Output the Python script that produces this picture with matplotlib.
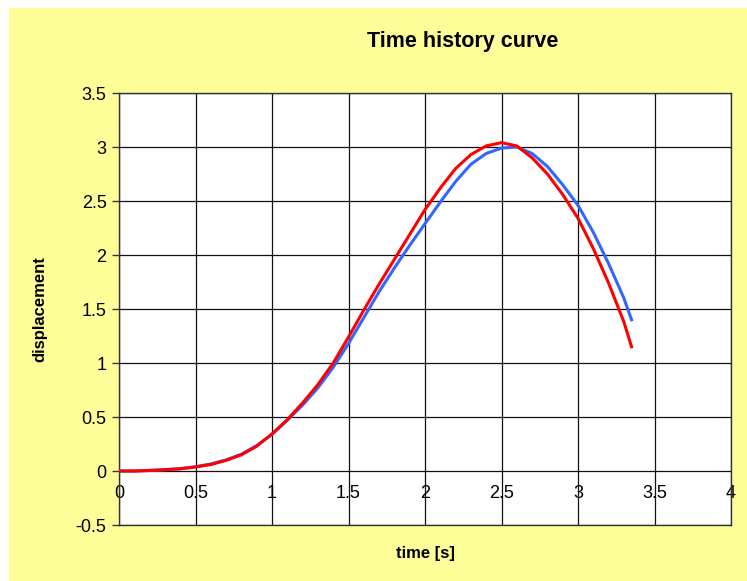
import matplotlib
matplotlib.use("Agg")
import matplotlib.pyplot as plt
from matplotlib.patches import Rectangle

plt.rcParams['font.family'] = ['Liberation Sans', 'DejaVu Sans']

# time [s]
time = [0.0, 0.1, 0.2, 0.3, 0.4, 0.5, 0.6, 0.7, 0.8, 0.9,
        1.0, 1.1, 1.2, 1.3, 1.4, 1.5, 1.6, 1.7, 1.8, 1.9,
        2.0, 2.1, 2.2, 2.3, 2.4, 2.5, 2.6, 2.7, 2.8, 2.9,
        3.0, 3.1, 3.2, 3.3, 3.35]

# blue series
disp_blue = [0.0, 0.0, 0.005, 0.012, 0.022, 0.04, 0.065, 0.103, 0.155, 0.235,
             0.34, 0.47, 0.61, 0.77, 0.96, 1.18, 1.42, 1.66, 1.88, 2.09,
             2.29, 2.49, 2.68, 2.84, 2.94, 2.99, 3.0, 2.94, 2.82, 2.65,
             2.46, 2.21, 1.92, 1.60, 1.40]

# red series
disp_red = [0.0, 0.0, 0.005, 0.012, 0.02, 0.037, 0.06, 0.098, 0.15, 0.23,
            0.343, 0.475, 0.63, 0.80, 1.00, 1.24, 1.49, 1.73, 1.96, 2.19,
            2.42, 2.62, 2.80, 2.93, 3.01, 3.04, 3.01, 2.90, 2.75, 2.56,
            2.34, 2.06, 1.74, 1.38, 1.15]

x_ticks = [0, 0.5, 1, 1.5, 2, 2.5, 3, 3.5, 4]
x_tick_labels = ['0', '0.5', '1', '1.5', '2', '2.5', '3', '3.5', '4']
y_ticks = [-0.5, 0, 0.5, 1, 1.5, 2, 2.5, 3, 3.5]
y_tick_labels = ['-0.5', '0', '0.5', '1', '1.5', '2', '2.5', '3', '3.5']

W, H = 747, 581
fig = plt.figure(figsize=(W / 100, H / 100), dpi=100, facecolor='white')
fig.patches.append(Rectangle((9 / W, 0), 1 - 9 / W, 1 - 8 / H,
                             transform=fig.transFigure, facecolor='#FFFF99',
                             edgecolor='none', zorder=-10))

ax = fig.add_axes([119 / W, 1 - 525 / H, (731 - 119) / W, (525 - 93) / H])
ax.set_zorder(1)
ax.set_facecolor('white')

ax.plot(time, disp_blue, color='#3366FF', lw=2.2, zorder=3)
ax.plot(time, disp_red, color='#FF0000', lw=2.2, zorder=4)

ax.set_xlim(0, 4)
ax.set_ylim(-0.5, 3.5)
ax.set_xticks(x_ticks)
ax.set_xticklabels(x_tick_labels)
ax.set_yticks(y_ticks)
ax.set_yticklabels(y_tick_labels)

ax.grid(True, color='#111111', lw=0.9)
ax.set_axisbelow(True)
for s in ax.spines.values():
    s.set_color('#333333')
    s.set_linewidth(1.0)

ax.tick_params(axis='y', length=5, width=1, color='#333333', labelsize=13, pad=4)
ax.tick_params(axis='x', length=0, labelsize=13, pad=-29)

ax.set_xlabel('time [s]', fontsize=12, fontweight='bold', labelpad=15)
ax.set_ylabel('displacement', fontsize=12, fontweight='bold', labelpad=20)

fig.text(463 / W, 1 - 41 / H, 'Time history curve', fontsize=15.5,
         fontweight='bold', ha='center', va='center')

fig.savefig('out.png', dpi=100, facecolor=fig.get_facecolor())
